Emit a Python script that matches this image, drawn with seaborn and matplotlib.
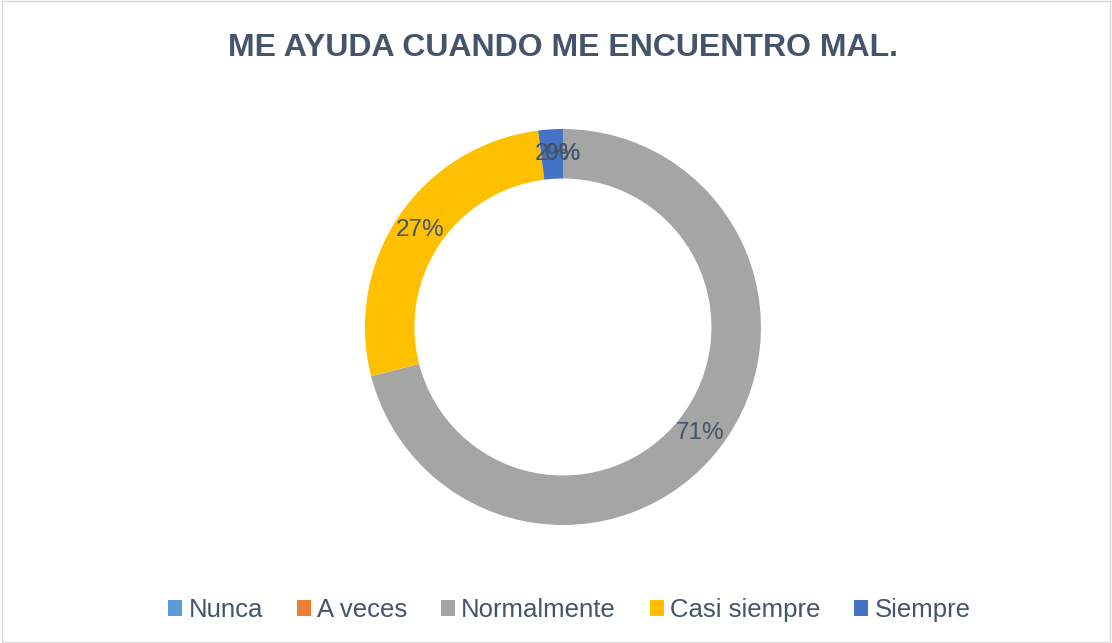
import matplotlib
matplotlib.use("Agg")
import matplotlib.pyplot as plt
import seaborn as sns
from matplotlib.patches import Rectangle

# Datos de la encuesta
categorias = ["Nunca", "A veces", "Normalmente", "Casi siempre", "Siempre"]
porcentajes = [0, 0, 71, 27, 2]
colores = ["#5B9BD5", "#ED7D31", "#A5A5A5", "#FFC000", "#4472C4"]
titulo = "ME AYUDA CUANDO ME ENCUENTRO MAL."

sns.set_theme(style="white")
plt.rcParams["font.family"] = ["Liberation Sans", "DejaVu Sans"]
texto = "#44546A"

fig = plt.figure(figsize=(11.12, 6.43), dpi=100)
ax = fig.add_axes([0.3282, 0.1835, 0.3561, 0.6159])

wedges, _, autotexts = ax.pie(
    porcentajes,
    colors=colores,
    startangle=90,
    counterclock=False,
    radius=1.0,
    autopct="%.0f%%",
    pctdistance=0.875,
    wedgeprops=dict(width=0.25, linewidth=0),
    textprops=dict(color=texto, fontsize=17.5),
)
ax.set_xlim(-1, 1)
ax.set_ylim(-1, 1)
ax.set_aspect("equal")

fig.text(0.506, 0.925, titulo, ha="center", va="center",
         fontsize=23, fontweight="bold", color=texto)

fig.legend(wedges, categorias, loc="center", bbox_to_anchor=(0.512, 0.051),
           ncol=5, frameon=False, fontsize=18.5, labelcolor=texto,
           handlelength=0.55, handleheight=0.55, handletextpad=0.25,
           columnspacing=1.3)

fig.patches.append(Rectangle((0.002, 0.002), 0.996, 0.996, transform=fig.transFigure,
                             fill=False, edgecolor="#D9D9D9", linewidth=1))

fig.savefig("out.png", dpi=100, facecolor="white")
